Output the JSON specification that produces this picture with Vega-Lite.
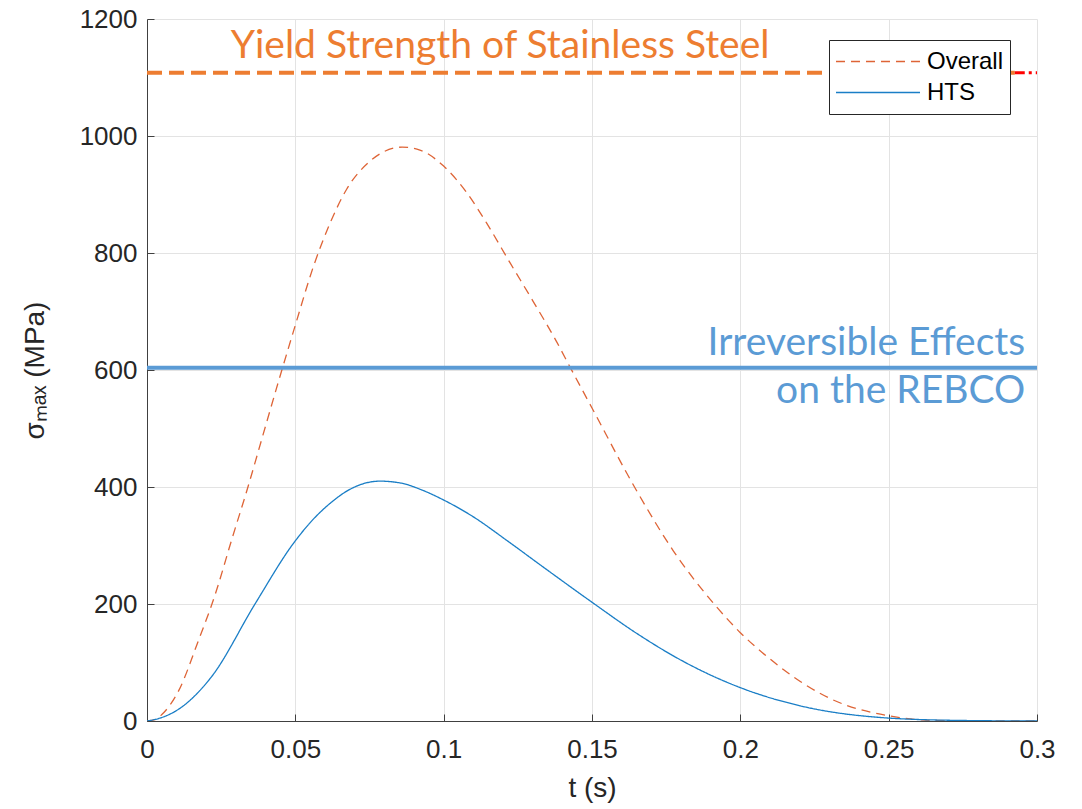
{
  "$schema": "https://vega.github.io/schema/vega-lite/v6.json",
  "width": 890,
  "height": 702,
  "autosize": {"type": "none"},
  "padding": {"left": 147, "top": 19, "right": 45, "bottom": 88},
  "background": "white",
  "config": {
    "view": {"stroke": null},
    "font": "Liberation Sans",
    "axis": {
      "grid": true,
      "gridColor": "#E3E3E3",
      "gridWidth": 1,
      "domainColor": "#404040",
      "domainWidth": 1,
      "tickColor": "#404040",
      "tickSize": -7,
      "labelFlush": false,
      "labelFont": "Liberation Sans",
      "labelFontSize": 26,
      "labelColor": "#262626",
      "titleFont": "Liberation Sans",
      "titleFontSize": 28,
      "titleFontWeight": "normal",
      "titleColor": "#262626"
    }
  },
  "datasets": {
    "curves": [
      {"t": 0, "v": 0, "series": "Overall"},
      {"t": 0.003, "v": 3, "series": "Overall"},
      {"t": 0.005, "v": 11, "series": "Overall"},
      {"t": 0.0106, "v": 51, "series": "Overall"},
      {"t": 0.0173, "v": 137, "series": "Overall"},
      {"t": 0.0229, "v": 215, "series": "Overall"},
      {"t": 0.0285, "v": 309, "series": "Overall"},
      {"t": 0.0342, "v": 403, "series": "Overall"},
      {"t": 0.0387, "v": 482, "series": "Overall"},
      {"t": 0.0443, "v": 580, "series": "Overall"},
      {"t": 0.0499, "v": 675, "series": "Overall"},
      {"t": 0.0561, "v": 777, "series": "Overall"},
      {"t": 0.0617, "v": 851, "series": "Overall"},
      {"t": 0.0673, "v": 909, "series": "Overall"},
      {"t": 0.0752, "v": 957, "series": "Overall"},
      {"t": 0.086, "v": 981, "series": "Overall"},
      {"t": 0.092, "v": 976, "series": "Overall"},
      {"t": 0.0999, "v": 949, "series": "Overall"},
      {"t": 0.1078, "v": 903, "series": "Overall"},
      {"t": 0.1145, "v": 851, "series": "Overall"},
      {"t": 0.1224, "v": 783, "series": "Overall"},
      {"t": 0.1302, "v": 717, "series": "Overall"},
      {"t": 0.1381, "v": 648, "series": "Overall"},
      {"t": 0.1426, "v": 605, "series": "Overall"},
      {"t": 0.15, "v": 535, "series": "Overall"},
      {"t": 0.165, "v": 394, "series": "Overall"},
      {"t": 0.1774, "v": 291, "series": "Overall"},
      {"t": 0.1915, "v": 198, "series": "Overall"},
      {"t": 0.2, "v": 151, "series": "Overall"},
      {"t": 0.21, "v": 106, "series": "Overall"},
      {"t": 0.2145, "v": 88, "series": "Overall"},
      {"t": 0.2313, "v": 36, "series": "Overall"},
      {"t": 0.25, "v": 9, "series": "Overall"},
      {"t": 0.265, "v": 1, "series": "Overall"},
      {"t": 0.28, "v": 0, "series": "Overall"},
      {"t": 0.3, "v": 0, "series": "Overall"},
      {"t": 0, "v": 0, "series": "HTS"},
      {"t": 0.005, "v": 6, "series": "HTS"},
      {"t": 0.0106, "v": 20, "series": "HTS"},
      {"t": 0.0218, "v": 76, "series": "HTS"},
      {"t": 0.0364, "v": 200, "series": "HTS"},
      {"t": 0.0497, "v": 306, "series": "HTS"},
      {"t": 0.0557, "v": 343, "series": "HTS"},
      {"t": 0.0617, "v": 372, "series": "HTS"},
      {"t": 0.0684, "v": 396, "series": "HTS"},
      {"t": 0.0785, "v": 410, "series": "HTS"},
      {"t": 0.0853, "v": 407, "series": "HTS"},
      {"t": 0.0931, "v": 394, "series": "HTS"},
      {"t": 0.0999, "v": 378, "series": "HTS"},
      {"t": 0.11, "v": 349, "series": "HTS"},
      {"t": 0.1212, "v": 309, "series": "HTS"},
      {"t": 0.1336, "v": 263, "series": "HTS"},
      {"t": 0.15, "v": 203, "series": "HTS"},
      {"t": 0.165, "v": 150, "series": "HTS"},
      {"t": 0.18, "v": 104, "series": "HTS"},
      {"t": 0.2, "v": 57, "series": "HTS"},
      {"t": 0.2201, "v": 26, "series": "HTS"},
      {"t": 0.25, "v": 5, "series": "HTS"},
      {"t": 0.2737, "v": 1, "series": "HTS"},
      {"t": 0.3, "v": 0, "series": "HTS"}
    ],
    "limits": [
      {"t1": 0, "t2": 0.2925, "v": 1108, "kind": "yield"},
      {"t1": 0.2925, "t2": 0.3, "v": 1108, "kind": "yieldred"},
      {"t1": 0, "t2": 0.3, "v": 604, "kind": "rebco"}
    ],
    "labels": [
      {"t": 0.119, "v": 1133, "text": "Yield Strength of Stainless Steel", "kind": "yield"},
      {"t": 0.296, "v": 626, "text": "Irreversible Effects", "kind": "rebco"},
      {"t": 0.296, "v": 543, "text": "on the REBCO", "kind": "rebco"}
    ]
  },
  "layer": [
    {
      "data": {"name": "curves"},
      "mark": {"type": "line", "strokeWidth": 1.3, "clip": true, "interpolate": "monotone"},
      "encoding": {
        "x": {
          "field": "t", "type": "quantitative",
          "scale": {"domain": [0, 0.3], "nice": false},
          "axis": {"title": "t (s)", "values": [0, 0.05, 0.1, 0.15, 0.2, 0.25, 0.3], "format": "~g", "labelPadding": 22, "titlePadding": 12}
        },
        "y": {
          "field": "v", "type": "quantitative",
          "scale": {"domain": [0, 1200], "nice": false},
          "axis": {"title": "σₘₐₓ (MPa)", "values": [0, 200, 400, 600, 800, 1000, 1200], "format": "d", "labelPadding": 17, "titlePadding": 30}
        },
        "color": {
          "field": "series", "type": "nominal",
          "scale": {"domain": ["Overall", "HTS"], "range": ["#DE6436", "#1A7EC6"]},
          "legend": {
            "title": null,
            "orient": "none",
            "legendX": 682,
            "legendY": 21,
            "direction": "vertical",
            "symbolType": "stroke",
            "symbolSize": 7056,
            "symbolStrokeWidth": 1.3,
            "clipHeight": 31,
            "labelFontSize": 24,
            "labelFont": "Liberation Sans",
            "labelColor": "#000000",
            "labelOffset": 6,
            "padding": 6,
            "rowPadding": 0,
            "fillColor": "white",
            "strokeColor": "#262626"
          }
        },
        "strokeDash": {
          "field": "series", "type": "nominal",
          "scale": {"domain": ["Overall", "HTS"], "range": [[9, 6], [1, 0]]},
          "legend": null
        },
        "order": {"field": "t", "type": "quantitative"}
      }
    },
    {
      "data": {"name": "limits"},
      "transform": [{"filter": "datum.kind === 'yield'"}],
      "mark": {"type": "rule", "strokeWidth": 4, "strokeDash": [15, 7], "color": "#ED7D31"},
      "encoding": {
        "x": {"field": "t1", "type": "quantitative"},
        "x2": {"field": "t2"},
        "y": {"field": "v", "type": "quantitative"}
      }
    },
    {
      "data": {"name": "limits"},
      "transform": [{"filter": "datum.kind === 'yieldred'"}],
      "mark": {"type": "rule", "strokeWidth": 3, "strokeDash": [10, 4, 3, 4], "color": "#FF0000"},
      "encoding": {
        "x": {"field": "t1", "type": "quantitative"},
        "x2": {"field": "t2"},
        "y": {"field": "v", "type": "quantitative"}
      }
    },
    {
      "data": {"name": "limits"},
      "transform": [{"filter": "datum.kind === 'rebco'"}],
      "mark": {"type": "rule", "strokeWidth": 4, "color": "#5B9BD5"},
      "encoding": {
        "x": {"field": "t1", "type": "quantitative"},
        "x2": {"field": "t2"},
        "y": {"field": "v", "type": "quantitative"}
      }
    },
    {
      "data": {"name": "labels"},
      "transform": [{"filter": "datum.kind === 'yield'"}],
      "mark": {"type": "text", "font": "Lato", "fontSize": 39, "align": "center", "baseline": "alphabetic", "color": "#ED7D31"},
      "encoding": {
        "x": {"field": "t", "type": "quantitative"},
        "y": {"field": "v", "type": "quantitative"},
        "text": {"field": "text"}
      }
    },
    {
      "data": {"name": "labels"},
      "transform": [{"filter": "datum.kind === 'rebco'"}],
      "mark": {"type": "text", "font": "Lato", "fontSize": 39, "align": "right", "baseline": "alphabetic", "color": "#5B9BD5"},
      "encoding": {
        "x": {"field": "t", "type": "quantitative"},
        "y": {"field": "v", "type": "quantitative"},
        "text": {"field": "text"}
      }
    }
  ]
}
